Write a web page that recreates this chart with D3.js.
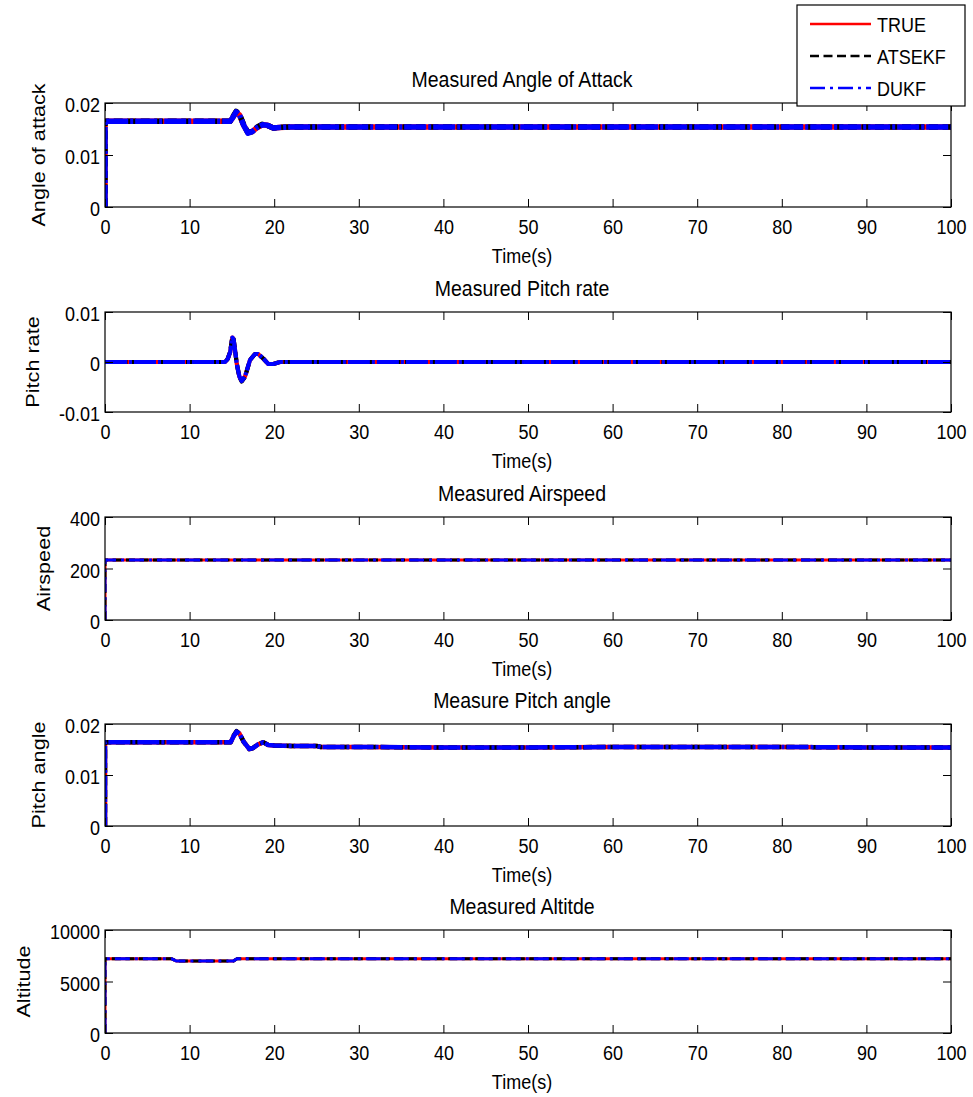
<!DOCTYPE html>
<html><head><meta charset="utf-8">
<script src="https://cdn.jsdelivr.net/npm/d3@7"></script>
<style>
body{margin:0;background:#fff}
svg{display:block}
text{font-family:"Liberation Sans",Arial,Helvetica,sans-serif;fill:#000}
</style>
</head><body>
<svg id="chart" width="973" height="1097"></svg>
<script>
// ---------------- DATA ----------------
const seriesNames = ["TRUE", "ATSEKF", "DUKF"];
const xTickValues = [0, 10, 20, 30, 40, 50, 60, 70, 80, 90, 100];
const xTickLabels = ["0", "10", "20", "30", "40", "50", "60", "70", "80", "90", "100"];

// Panel 1: Measured Angle of Attack
const aoaTime   = [0, 0, 5, 10, 14.8, 15.1, 15.5, 15.9, 16.4, 16.9, 17.4, 18.0, 18.6, 19.2, 19.9, 20.6, 22, 25, 30, 40, 50, 60, 70, 80, 90, 100];
const aoaTrue   = [0, 0.0165, 0.0165, 0.0165, 0.0165, 0.0172, 0.0182, 0.0177, 0.0157, 0.0143, 0.0145, 0.0153, 0.0158, 0.0157, 0.0152, 0.0153, 0.0154, 0.0154, 0.0154, 0.0154, 0.0154, 0.0154, 0.0154, 0.0154, 0.0154, 0.0154];
const aoaAtsekf = [0, 0.0165, 0.0165, 0.0165, 0.0165, 0.0173, 0.0184, 0.0178, 0.0158, 0.0143, 0.0145, 0.0154, 0.0159, 0.0157, 0.0152, 0.0153, 0.0154, 0.0154, 0.0154, 0.0154, 0.0154, 0.0154, 0.0154, 0.0154, 0.0154, 0.0154];
const aoaDukf   = [0, 0.0165, 0.0165, 0.0165, 0.0165, 0.0172, 0.0183, 0.0177, 0.0157, 0.0142, 0.0145, 0.0153, 0.0158, 0.0157, 0.0152, 0.0153, 0.0154, 0.0154, 0.0154, 0.0154, 0.0154, 0.0154, 0.0154, 0.0154, 0.0154, 0.0154];
const aoaTicks  = [0, 0.01, 0.02];
const aoaTickLabels = ["0", "0.01", "0.02"];

// Panel 2: Measured Pitch rate
const prTime   = [0, 5, 10, 14.2, 14.5, 14.8, 15.05, 15.2, 15.37, 15.57, 15.88, 16.16, 16.55, 17.14, 17.73, 18.1, 18.7, 19.3, 19.9, 20.7, 22, 30, 40, 50, 60, 70, 80, 90, 100];
const prTrue   = [0, 0, 0, 0, 0.0006, 0.0020, 0.0049, 0.0045, 0.0024, -0.0003, -0.0029, -0.0038, -0.0029, 0.0004, 0.0016, 0.0016, 0.0007, -0.0004, -0.0004, 0, 0, 0, 0, 0, 0, 0, 0, 0, 0];
const prAtsekf = [0, 0, 0, 0, 0.0006, 0.0021, 0.0050, 0.0046, 0.0025, -0.0003, -0.0030, -0.0039, -0.0030, 0.0004, 0.0016, 0.0016, 0.0007, -0.0004, -0.0004, 0, 0, 0, 0, 0, 0, 0, 0, 0, 0];
const prDukf   = [0, 0, 0, 0, 0.0006, 0.0020, 0.0049, 0.0045, 0.0024, -0.0003, -0.0029, -0.0038, -0.0029, 0.0004, 0.0016, 0.0016, 0.0007, -0.0004, -0.0004, 0, 0, 0, 0, 0, 0, 0, 0, 0, 0];
const prTicks  = [-0.01, 0, 0.01];
const prTickLabels = ["-0.01", "0", "0.01"];

// Panel 3: Measured Airspeed
const asTime   = [0, 0, 25, 50, 75, 100];
const asTrue   = [0, 233, 233, 233, 233, 233];
const asAtsekf = [0, 233, 233, 233, 233, 233];
const asDukf   = [0, 233, 233, 233, 233, 233];
const asTicks  = [0, 200, 400];
const asTickLabels = ["0", "200", "400"];

// Panel 4: Measure Pitch angle
const paTime   = [0, 0, 5, 10, 14.85, 15.2, 15.55, 15.9, 16.4, 17.06, 17.5, 18.1, 18.7, 19.3, 20, 22, 25, 25.5, 30, 40, 50, 60, 70, 80, 90, 100];
const paTrue   = [0, 0.0164, 0.0164, 0.0164, 0.0164, 0.0176, 0.0185, 0.0181, 0.0165, 0.0151, 0.0153, 0.0160, 0.0164, 0.0159, 0.0158, 0.0157, 0.0157, 0.0155, 0.0155, 0.0154, 0.0154, 0.0155, 0.0155, 0.0155, 0.0154, 0.0154];
const paAtsekf = [0, 0.0164, 0.0164, 0.0164, 0.0164, 0.0177, 0.0186, 0.0181, 0.0165, 0.0151, 0.0153, 0.0161, 0.0164, 0.0159, 0.0158, 0.0157, 0.0157, 0.0155, 0.0155, 0.0154, 0.0154, 0.0155, 0.0155, 0.0155, 0.0154, 0.0154];
const paDukf   = [0, 0.0164, 0.0164, 0.0164, 0.0164, 0.0176, 0.0185, 0.0181, 0.0165, 0.0151, 0.0153, 0.0160, 0.0164, 0.0159, 0.0158, 0.0157, 0.0157, 0.0155, 0.0155, 0.0154, 0.0154, 0.0155, 0.0155, 0.0155, 0.0154, 0.0154];
const paTicks  = [0, 0.01, 0.02];
const paTickLabels = ["0", "0.01", "0.02"];

// Panel 5: Measured Altitde
const altTime   = [0, 0, 7.9, 8.4, 15.2, 15.6, 40, 70, 100];
const altTrue   = [0, 7200, 7200, 7000, 7000, 7200, 7200, 7200, 7200];
const altAtsekf = [0, 7200, 7200, 7000, 7000, 7200, 7200, 7200, 7200];
const altDukf   = [0, 7200, 7200, 7000, 7000, 7200, 7200, 7200, 7200];
const altTicks  = [0, 5000, 10000];
const altTickLabels = ["0", "5000", "10000"];

const panelTitles = ["Measured Angle of Attack", "Measured Pitch rate", "Measured Airspeed", "Measure Pitch angle", "Measured Altitde"];
const panelYLabels = ["Angle of attack", "Pitch rate", "Airspeed", "Pitch angle", "Altitude"];
const panelXLabel = "Time(s)";

// ---------------- LAYOUT / STYLE ----------------
const plotLeft = 105, plotRight = 951;
const panelBoxes = [[103, 207], [312, 412], [517, 620], [724, 826], [930, 1033]];
const seriesColors = ["#ff0000", "#000000", "#0000ff"];
const normalDash = [null, "9,4.5", "15,5,3,5"];
const noisyDash  = [null, "9,4.5", "22,2,3,2"];

const panels = [
  {time: aoaTime, series: [aoaTrue, aoaAtsekf, aoaDukf], domain: [0, 0.02], ticks: aoaTicks, labels: aoaTickLabels, width: 5.5, noisy: true},
  {time: prTime, series: [prTrue, prAtsekf, prDukf], domain: [-0.01, 0.01], ticks: prTicks, labels: prTickLabels, width: 4.2, noisy: true},
  {time: asTime, series: [asTrue, asAtsekf, asDukf], domain: [0, 400], ticks: asTicks, labels: asTickLabels, width: 3, noisy: false},
  {time: paTime, series: [paTrue, paAtsekf, paDukf], domain: [0, 0.02], ticks: paTicks, labels: paTickLabels, width: 4.5, noisy: true},
  {time: altTime, series: [altTrue, altAtsekf, altDukf], domain: [0, 10000], ticks: altTicks, labels: altTickLabels, width: 3, noisy: false}
];

const FS = 18;      // tick / label font size
const VS = 1.17;    // vertical stretch of glyphs seen in the reference
const svg = d3.select("#chart");
const defs = svg.append("defs");

const x = d3.scaleLinear().domain([0, 100]).range([plotLeft, plotRight]);

function styleAxis(g) {
  g.attr("font-family", null).attr("font-size", null);
  g.select(".domain").remove();
  g.selectAll(".tick line").attr("stroke", "#000").attr("stroke-width", 1);
  g.selectAll(".tick text").attr("font-size", FS).attr("fill", "#000");
}

function addText(parent, tx, ty, str, size, anchor, rotate) {
  return parent.append("text")
    .attr("transform", `translate(${tx},${ty}) scale(1,${VS})` + (rotate ? " rotate(-90)" : ""))
    .attr("text-anchor", anchor).attr("font-size", size).text(str);
}

panels.forEach((p, i) => {
  const [top, bottom] = panelBoxes[i];
  const y = d3.scaleLinear().domain(p.domain).range([bottom, top]);
  const g = svg.append("g");

  defs.append("clipPath").attr("id", "clip" + i)
    .append("rect").attr("x", plotLeft).attr("y", top)
    .attr("width", plotRight - plotLeft).attr("height", bottom - top);

  const line = d3.line().x(d => x(d[0])).y(d => y(d[1]));
  const lg = g.append("g").attr("clip-path", `url(#clip${i})`);
  p.series.forEach((vals, k) => {
    const dash = (p.noisy ? noisyDash : normalDash)[k];
    lg.append("path")
      .datum(d3.zip(p.time, vals))
      .attr("d", line)
      .attr("fill", "none")
      .attr("stroke", seriesColors[k])
      .attr("stroke-width", p.width)
      .attr("stroke-linejoin", "round")
      .attr("stroke-dasharray", dash);
  });

  // axes with inner ticks on all four sides
  g.append("g").attr("transform", `translate(0,${bottom})`)
    .call(d3.axisBottom(x).tickValues(xTickValues).tickFormat((d, j) => xTickLabels[j])
      .tickSizeInner(-8).tickSizeOuter(0).tickPadding(12))
    .call(styleAxis)
    .call(a => a.selectAll(".tick text").attr("y", 0).attr("dy", 0)
      .attr("transform", `translate(0,27) scale(1,${VS})`));
  g.append("g").attr("transform", `translate(0,${top})`)
    .call(d3.axisTop(x).tickValues(xTickValues).tickFormat(() => "")
      .tickSizeInner(-8).tickSizeOuter(0))
    .call(styleAxis);
  const yl = g.append("g").attr("transform", `translate(${plotLeft},0)`)
    .call(d3.axisLeft(y).tickValues(p.ticks).tickFormat((d, j) => p.labels[j])
      .tickSizeInner(-8).tickSizeOuter(0).tickPadding(5))
    .call(styleAxis)
    .call(a => a.selectAll(".tick text").attr("x", 0).attr("dy", 0)
      .attr("transform", `translate(-5,8.5) scale(1,${VS})`));
  g.append("g").attr("transform", `translate(${plotRight},0)`)
    .call(d3.axisRight(y).tickValues(p.ticks).tickFormat(() => "")
      .tickSizeInner(-8).tickSizeOuter(0))
    .call(styleAxis);

  // box
  g.append("rect").attr("x", plotLeft).attr("y", top)
    .attr("width", plotRight - plotLeft).attr("height", bottom - top)
    .attr("fill", "none").attr("stroke", "#000").attr("stroke-width", 1.2);

  const cxMid = (plotLeft + plotRight) / 2 - 6;
  addText(g, cxMid, top - 16, panelTitles[i], 19.5, "middle", false);
  addText(g, cxMid, bottom + 56, panelXLabel, FS, "middle", false);

  // y label positioned from tick label widths
  let maxW = 0;
  yl.selectAll(".tick text").each(function () { maxW = Math.max(maxW, this.getComputedTextLength()); });
  const cx = plotLeft - 5 - maxW - 26.5 + 0.35 * 18.5;
  const cy = (top + bottom) / 2;
  addText(g, cx, cy, panelYLabels[i], 18.5, "middle", true);
});

// legend
const lgd = svg.append("g");
lgd.append("rect").attr("x", 797).attr("y", 5).attr("width", 168).attr("height", 101)
  .attr("fill", "#fff").attr("stroke", "#000").attr("stroke-width", 1.2);
const legendRows = [24, 56, 88];
seriesNames.forEach((name, k) => {
  lgd.append("line").attr("x1", 810).attr("x2", 871)
    .attr("y1", legendRows[k]).attr("y2", legendRows[k])
    .attr("stroke", seriesColors[k]).attr("stroke-width", 2.5)
    .attr("stroke-dasharray", normalDash[k]);
  addText(lgd, 877, legendRows[k] + 7.5, name, FS, "start", false);
});
</script>
</body></html>
